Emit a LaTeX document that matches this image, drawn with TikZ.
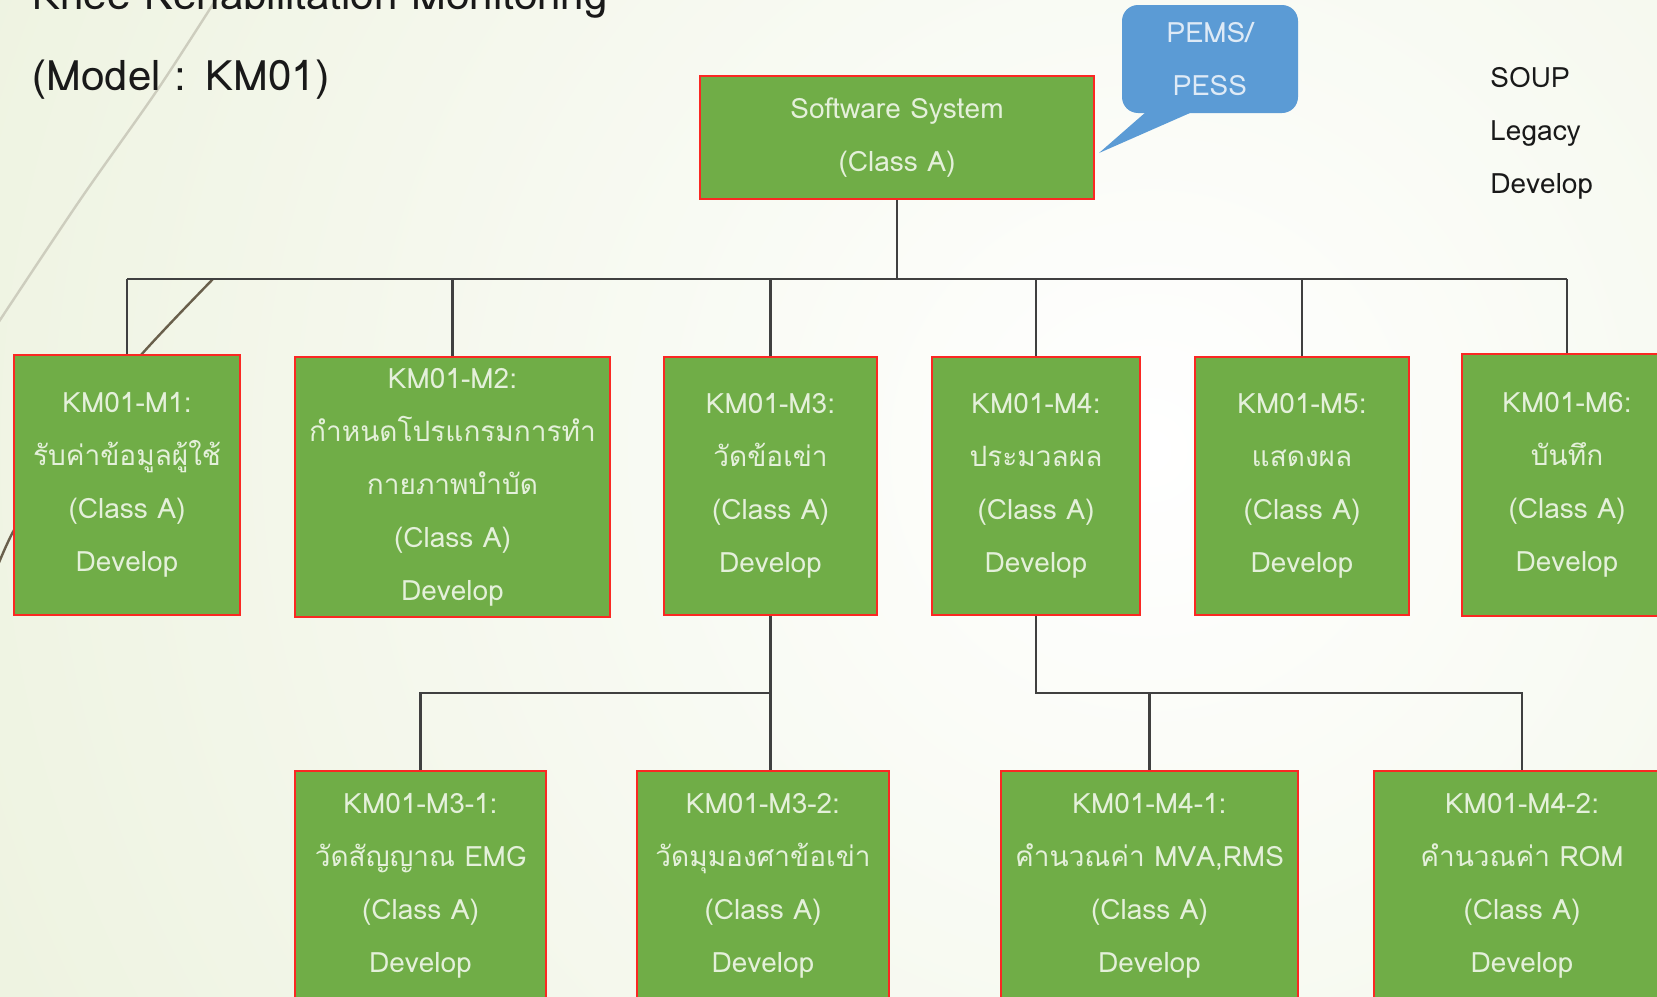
\documentclass[tikz,border=0pt]{standalone}
\usepackage{fontspec}
\setmainfont{Loma}[Script=Thai]
\usetikzlibrary{calc}

\definecolor{boxgreen}{RGB}{112,173,71}
\definecolor{boxred}{RGB}{250,40,35}
\definecolor{boxtext}{RGB}{228,240,218}
\definecolor{callblue}{RGB}{91,155,213}
\definecolor{calltext}{RGB}{222,234,246}
\definecolor{bgreen}{RGB}{224,233,200}
\definecolor{linegrey}{RGB}{64,64,64}
\definecolor{decogrey}{RGB}{205,205,190}
\definecolor{decobrown}{RGB}{105,95,75}
\definecolor{inkblack}{RGB}{25,25,25}

\newcommand{\boxfont}{\fontsize{14}{26.5}\selectfont}
\newcommand{\headfont}{\fontsize{21}{26}\selectfont}

\tikzset{
  module/.style={rectangle, draw=boxred, line width=1pt, fill=boxgreen,
    text=boxtext, align=center, inner sep=0pt, font=\boxfont},
  boxsize/.style 2 args={minimum width=#1*0.5pt, minimum height=#2*0.5pt},
  link/.style={draw=linegrey, line width=1.2pt},
  legendtext/.style={anchor=base west, inner sep=0pt, text=inkblack, font=\boxfont},
}

\begin{document}
\begin{tikzpicture}[x=0.5pt, y=-0.5pt]
  \useasboundingbox (0,0) rectangle (1657,996);
  % background
  \fill[bgreen] (0,0) rectangle (1657,996);
  \begin{scope}
    \clip (0,0) rectangle (1657,996);
    \shade[inner color=white, outer color=bgreen] (1150,450) circle (2300);
    \draw[decogrey, line width=1.2pt] plot[smooth] coordinates {(222,-10) (158,89) (80,200) (0,320) (-6,330)};
    \draw[decobrown, line width=1.2pt] plot[smooth] coordinates {(213,279) (141,355) (62,450) (14,530) (-6,575)};
  \end{scope}

  % headings
  \node[anchor=base west, inner sep=0pt, text=inkblack, font=\headfont] (title) at (32,9) {Knee Rehabilitation Monitoring};
  \node[anchor=base west, inner sep=0pt, text=inkblack, font=\headfont] (model) at (32,90) {(Model : KM01)};
  \node[legendtext] (soup) at (1490,87) {SOUP};
  \node[legendtext] (legacy) at (1490,140) {Legacy};
  \node[legendtext] (develop) at (1490,193) {Develop};

  % callout
  \coordinate (tip) at (1099,153);
  \node[rectangle, fill=callblue, rounded corners=8pt, boxsize={176}{108},
    align=center, inner sep=0pt, text=calltext, font=\boxfont] (pems) at (1210,59) {PEMS/\\PESS};
  \fill[callblue] ($(pems.south west)+(25,-2)$) -- (tip) -- ($(pems.south west)+(72,-2)$) -- cycle;

  % modules
  \node[module, boxsize={394}{123}] (sys) at (897,137.5) {Software System\\(Class A)};
  \node[module, boxsize={226}{260}] (m1) at (127,485) {KM01-M1:\\รับค่าข้อมูลผู้ใช้\\(Class A)\\Develop};
  \node[module, boxsize={315}{260}] (m2) at (452.5,487) {KM01-M2:\\กำหนดโปรแกรมการทำ\\กายภาพบำบัด\\(Class A)\\Develop};
  \node[module, boxsize={213}{258}] (m3) at (770.5,486) {KM01-M3:\\วัดข้อเข่า\\(Class A)\\Develop};
  \node[module, boxsize={208}{258}] (m4) at (1036,486) {KM01-M4:\\ประมวลผล\\(Class A)\\Develop};
  \node[module, boxsize={214}{258}] (m5) at (1302,486) {KM01-M5:\\แสดงผล\\(Class A)\\Develop};
  \node[module, boxsize={210}{262}] (m6) at (1567,485) {KM01-M6:\\บันทึก\\(Class A)\\Develop};
  \node[module, boxsize={251}{230}] (m31) at (420.5,886) {KM01-M3-1:\\วัดสัญญาณ EMG\\(Class A)\\Develop};
  \node[module, boxsize={252}{230}] (m32) at (763,886) {KM01-M3-2:\\วัดมุมองศาข้อเข่า\\(Class A)\\Develop};
  \node[module, boxsize={297}{230}] (m41) at (1149.5,886) {KM01-M4-1:\\คำนวณค่า MVA,RMS\\(Class A)\\Develop};
  \node[module, boxsize={296}{230}] (m42) at (1522,886) {KM01-M4-2:\\คำนวณค่า ROM\\(Class A)\\Develop};

  % connectors
  \coordinate (bus) at (0,279);
  \coordinate (bus2) at (0,693);
  \draw[link] (sys.south) -- (sys.south |- bus);
  \draw[link] (m1.north |- bus) -- (m6.north |- bus);
  \foreach \m in {m1,m2,m3,m4,m5,m6}
    \draw[link] (\m.north) -- (\m.north |- bus);
  \draw[link] (m3.south) -- (m3.south |- m32.north);
  \draw[link] (m3.south |- bus2) -| (m31.north);
  \draw[link] (m4.south) |- (m42.north |- bus2) -- (m42.north);
  \draw[link] (m41.north |- bus2) -- (m41.north);
\end{tikzpicture}
\end{document}
